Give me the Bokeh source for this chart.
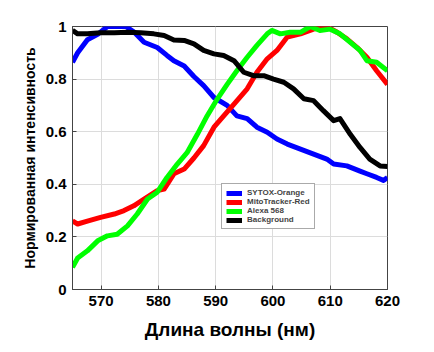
from bokeh.plotting import figure
from bokeh.models import FixedTicker, Range1d, Legend, LegendItem
from bokeh.embed import file_html
from bokeh.resources import INLINE

# Data
sytox_x = [565, 565.9, 567.6, 569.4, 571.1, 574.3, 575.7, 577.5, 579.8, 581.5, 582.7, 584.5, 586.2, 587.9, 589.7,
           592.0, 593.7, 595.5, 597.2, 599.0, 600.7, 602.5, 604.8, 607.1, 609.4, 610.6, 612.9, 615.2, 616.4, 618.1, 619.3, 620]
sytox_y = [0.864, 0.90, 0.95, 0.97, 1.0, 1.0, 0.98, 0.94, 0.92, 0.89, 0.87, 0.85, 0.81, 0.775, 0.73,
           0.70, 0.66, 0.65, 0.617, 0.598, 0.572, 0.553, 0.534, 0.515, 0.496, 0.477, 0.47, 0.45, 0.44, 0.426, 0.415, 0.426]

mito_x = [565, 565.9, 567.6, 569.9, 572.3, 574.0, 575.7, 577.5, 579.8, 581.0, 582.7, 584.5, 586.2, 587.9, 589.7,
          591.4, 593.2, 595.5, 597.2, 599.0, 600.7, 602.5, 604.8, 607.1, 609.4, 611.2, 612.9, 614.7, 616.4, 618.1, 620]
mito_y = [0.261, 0.249, 0.26, 0.274, 0.287, 0.30, 0.318, 0.344, 0.376, 0.382, 0.44, 0.458, 0.50, 0.547, 0.617,
          0.66, 0.705, 0.763, 0.826, 0.877, 0.909, 0.96, 0.972, 0.99, 1.0, 0.978, 0.953, 0.92, 0.883, 0.832, 0.78]

alexa_x = [565, 565.9, 567.6, 569.4, 571.1, 572.8, 574.6, 576.3, 578.1, 579.8, 581.5, 583.3, 585.0, 586.8, 588.5,
           590.3, 592.0, 593.7, 595.5, 597.2, 599.0, 599.8, 601.3, 603.0, 604.8, 606.5, 608.2, 610.0, 611.7, 613.5,
           615.2, 616.4, 618.1, 620]
alexa_y = [0.084, 0.12, 0.147, 0.185, 0.204, 0.21, 0.242, 0.287, 0.344, 0.37, 0.426, 0.477, 0.52, 0.59, 0.66,
           0.725, 0.78, 0.832, 0.883, 0.928, 0.972, 0.985, 0.972, 0.978, 0.978, 1.0, 0.985, 0.99, 0.972, 0.94,
           0.909, 0.87, 0.864, 0.832]

bg_x = [565, 565.9, 567.6, 569.9, 572.3, 574.6, 576.9, 579.2, 581.0, 582.7, 584.5, 586.2, 587.9, 589.7, 591.4,
        593.2, 594.9, 596.6, 598.4, 600.1, 601.9, 603.6, 605.4, 607.1, 608.8, 610.6, 611.7, 613.5, 615.2, 616.9,
        618.7, 620]
bg_y = [0.985, 0.972, 0.972, 0.976, 0.976, 0.978, 0.976, 0.972, 0.966, 0.949, 0.947, 0.934, 0.909, 0.896, 0.89,
        0.87, 0.826, 0.813, 0.813, 0.80, 0.788, 0.763, 0.725, 0.718, 0.68, 0.642, 0.65, 0.59, 0.54, 0.496,
        0.47, 0.468]

series_names = ["SYTOX-Orange", "MitoTracker-Red", "Alexa 568", "Background"]
series_colors = ["#0000ff", "#ff0000", "#00ff00", "#000000"]

x_ticks = [570, 580, 590, 600, 610, 620]
y_ticks = [0, 0.2, 0.4, 0.6, 0.8, 1.0]
y_tick_labels = ["0", "0.2", "0.4", "0.6", "0.8", "1"]

p = figure(width=434, height=352, output_backend="svg", toolbar_location=None,
           x_range=Range1d(565, 620), y_range=Range1d(0, 1),
           min_border_left=72, min_border_right=47, min_border_top=26, min_border_bottom=63)

p.outline_line_color = "#444444"
p.outline_line_width = 1
p.background_fill_color = "white"
p.border_fill_color = "white"

for ax in (p.xaxis[0], p.yaxis[0]):
    ax.major_label_text_font = "Liberation Sans"
    ax.major_label_text_font_style = "bold"
    ax.major_label_text_font_size = "15px"
    ax.major_label_text_color = "black"
    ax.axis_label_text_font = "Liberation Sans"
    ax.axis_label_text_font_style = "bold"
    ax.axis_label_text_color = "black"
    ax.axis_line_color = "#444444"
    ax.major_tick_in = 4
    ax.major_tick_out = 0
    ax.minor_tick_line_color = None
    ax.major_tick_line_color = "#444444"

p.xaxis.ticker = FixedTicker(ticks=x_ticks)
p.yaxis.ticker = FixedTicker(ticks=y_ticks)
p.yaxis.major_label_overrides = {t: l for t, l in zip(y_ticks, y_tick_labels)}
p.xaxis.axis_label = "Длина волны (нм)"
p.xaxis.axis_label_text_font_size = "19px"
p.xaxis.axis_label_standoff = 10
p.xaxis.major_label_standoff = 6
p.yaxis.axis_label = "Нормированная интенсивность"
p.yaxis.axis_label_text_font_size = "14px"
p.yaxis.axis_label_standoff = 5
p.yaxis.major_label_standoff = 6

p.xgrid.grid_line_color = "#dcdcdc"
p.ygrid.grid_line_color = "#dcdcdc"

renderers = []
for xs, ys, c in [(sytox_x, sytox_y, series_colors[0]), (mito_x, mito_y, series_colors[1]),
                  (alexa_x, alexa_y, series_colors[2]), (bg_x, bg_y, series_colors[3])]:
    r = p.line(xs, ys, line_color=c, line_width=5, line_join="round")
    renderers.append(r)

legend = Legend(items=[LegendItem(label=n, renderers=[r]) for n, r in zip(series_names, renderers)],
                location=(149, 60))
legend.label_text_font = "Liberation Sans"
legend.label_text_font_style = "bold"
legend.label_text_font_size = "8px"
legend.label_height = 8
legend.glyph_height = 8
legend.glyph_width = 16
legend.spacing = 0
legend.padding = 4
legend.margin = 0
legend.label_standoff = 5
legend.border_line_color = "#555555"
legend.border_line_width = 1
legend.background_fill_alpha = 1
p.add_layout(legend, "center")

open("out.html", "w").write(file_html(p, INLINE))
